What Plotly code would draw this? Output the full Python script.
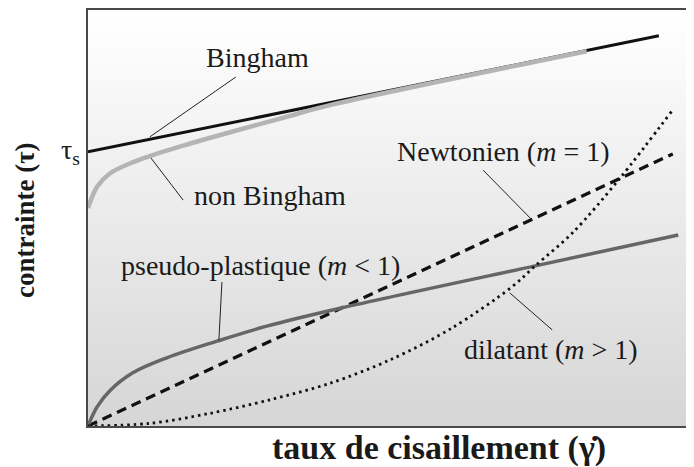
import plotly.graph_objects as go

# ---- data (axis units 0..100) ----
bingham_x = [0.0, 94.2]
bingham_y = [65.9, 93.8]

nonbingham_x = [0.0, 1.5, 3.6, 7.4, 10.2, 15.7, 23.9, 32.2, 40.4, 82.3]
nonbingham_y = [52.4, 57.5, 60.7, 63.4, 64.9, 67.4, 70.8, 74.1, 77.3, 90.1]

newton_x = [0.0, 96.5]
newton_y = [0.0, 65.4]

pseudo_x = [0.0, 1.5, 3.6, 7.4, 13.0, 21.3, 29.5, 41.6, 73.8, 97.4]
pseudo_y = [0.0, 4.6, 8.5, 12.8, 16.4, 20.4, 24.0, 28.3, 38.5, 45.9]

dilat_x = [0.0, 10.0, 20.0, 30.0, 40.0, 50.0, 60.0, 70.0, 73.8, 80.0, 87.8, 96.5]
dilat_y = [0.0, 0.6, 3.0, 6.3, 10.3, 16.0, 23.5, 33.5, 38.5, 46.5, 59.6, 76.0]

labels = ["Bingham", "non Bingham", "Newtonien (<i>m</i> = 1)",
          "pseudo-plastique (<i>m</i> < 1)", "dilatant (<i>m</i> > 1)"]
label_x = [27.9, 30.0, 68.6, 28.4, 76.4]
label_y = [88.7, 55.3, 65.9, 38.7, 18.3]
# leader lines: (x0, y0) -> (x1, y1)
leader_x0 = [24.4, 10.4, 65.2, 22.1, 69.6]
leader_y0 = [83.9, 64.4, 61.5, 34.6, 32.0]
leader_x1 = [10.2, 15.7, 73.3, 21.6, 76.6]
leader_y1 = [69.5, 54.3, 49.5, 20.7, 23.1]

x_title = "taux de cisaillement (γ̇)"
y_title = "contrainte (τ)"
tau_label = "τ<sub>s</sub>"

FONT = "Liberation Serif, Times New Roman, serif"

fig = go.Figure()

fig.add_trace(go.Scatter(x=bingham_x, y=bingham_y, mode="lines",
                         line=dict(color="#111111", width=3), hoverinfo="skip"))
fig.add_trace(go.Scatter(x=nonbingham_x, y=nonbingham_y, mode="lines",
                         line=dict(color="#b4b4b4", width=4.5, shape="spline", smoothing=0.9),
                         hoverinfo="skip"))
fig.add_trace(go.Scatter(x=newton_x, y=newton_y, mode="lines",
                         line=dict(color="#111111", width=3.2, dash="10px,6px"), hoverinfo="skip"))
fig.add_trace(go.Scatter(x=pseudo_x, y=pseudo_y, mode="lines",
                         line=dict(color="#666666", width=3.5, shape="spline", smoothing=1.0),
                         hoverinfo="skip"))
fig.add_trace(go.Scatter(x=dilat_x, y=dilat_y, mode="lines",
                         line=dict(color="#111111", width=2.8, dash="2.5px,4px", shape="spline", smoothing=0.9),
                         hoverinfo="skip"))

# gradient background bands
nb = 60
shapes = []
for i in range(nb):
    t = i / (nb - 1)
    c = int(round(0xd6 + (0xff - 0xd6) * t))
    shapes.append(dict(type="rect", xref="paper", yref="paper", x0=0, x1=1,
                       y0=i / nb, y1=(i + 1) / nb + 0.002, layer="below",
                       line=dict(width=0), fillcolor=f"rgb({c},{c},{c})"))
for a, b, c_, d in zip(leader_x0, leader_y0, leader_x1, leader_y1):
    shapes.append(dict(type="line", xref="x", yref="y", x0=a, y0=b, x1=c_, y1=d,
                       line=dict(color="#222222", width=1)))

annotations = []
for t, x, y in zip(labels, label_x, label_y):
    annotations.append(dict(text=t, x=x, y=y, xref="x", yref="y", showarrow=False,
                            font=dict(family=FONT, size=28, color="#1a1a1a")))
annotations.append(dict(text=tau_label, x=0, y=bingham_y[0], xref="x", yref="y",
                        xanchor="right", showarrow=False, xshift=-6,
                        font=dict(family=FONT, size=28, color="#1a1a1a")))
annotations.append(dict(text="<b>" + x_title + "</b>", x=0.579, y=0, xref="paper", yref="paper",
                        yanchor="middle", yshift=-22, showarrow=False,
                        font=dict(family=FONT, size=34, color="#1a1a1a")))
annotations.append(dict(text="<b>" + y_title + "</b>", x=0, y=0.495, xref="paper", yref="paper",
                        xanchor="center", xshift=-63, textangle=-90, showarrow=False,
                        font=dict(family=FONT, size=27, color="#1a1a1a")))

# the page body has an 8px default margin: size the figure to fit the window
fig.update_layout(
    width=686, height=459,
    margin=dict(l=80, r=0, t=2, b=41),
    paper_bgcolor="white", plot_bgcolor="rgba(0,0,0,0)",
    showlegend=False,
    shapes=shapes, annotations=annotations,
    xaxis=dict(range=[0, 100], showgrid=False, zeroline=False, showticklabels=False,
               ticks="", showline=True, linecolor="#4a4a4a", linewidth=2, mirror=True),
    yaxis=dict(range=[0, 100], showgrid=False, zeroline=False, showticklabels=False,
               ticks="", showline=True, linecolor="#4a4a4a", linewidth=2, mirror=False),
)

fig.write_html("out.html")
